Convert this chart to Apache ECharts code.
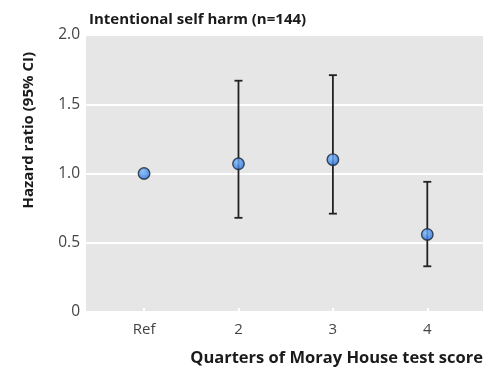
<!DOCTYPE html>
<html>
<head>
<meta charset="utf-8">
<script src="https://cdn.jsdelivr.net/npm/echarts@6/dist/echarts.min.js"></script>
<style>html,body{margin:0;padding:0;background:#fff}#c{width:485px;height:373px}</style>
</head>
<body>
<div id="c"></div>
<script>
const categories = ["Ref", "2", "3", "4"];
const hazard = [1.0, 1.07, 1.10, 0.56];
const lower = [null, 0.68, 0.71, 0.33];
const upper = [null, 1.67, 1.71, 0.94];
const yTicks = [0, 0.5, 1.0, 1.5, 2.0];

const FONT = "Open Sans";
const chart = echarts.init(document.getElementById('c'), null, {renderer: 'canvas'});

const pointData = hazard.map((v, i) => [i + 1, v]);
const errData = [];
categories.forEach((c, i) => { if (lower[i] != null) errData.push([i + 1, lower[i], upper[i]]); });

chart.setOption({
  animation: false,
  backgroundColor: '#ffffff',
  title: {
    text: 'Intentional self harm (n=144)',
    left: 84, top: 7,
    textStyle: {fontFamily: FONT, fontWeight: 'bold', fontSize: 15, color: '#1a1a1a'}
  },
  grid: {left: 86, right: 2, top: 35, bottom: 61, show: true, backgroundColor: '#e6e6e6', borderWidth: 0},
  xAxis: {
    type: 'value', min: 0.385, max: 4.59,
    axisLine: {show: false},
    splitLine: {show: false},
    axisTick: {show: true, customValues: [1, 2, 3, 4], inside: true, length: 4, lineStyle: {color: '#ffffff', width: 2}},
    axisLabel: {customValues: [1, 2, 3, 4], formatter: v => categories[Math.round(v) - 1],
      fontFamily: FONT, fontSize: 15, color: '#444', margin: 10}
  },
  yAxis: {
    type: 'value', min: 0, max: 2, interval: 0.5,
    axisLine: {show: false}, axisTick: {show: false},
    splitLine: {show: true, lineStyle: {color: '#ffffff', width: 2}},
    axisLabel: {customValues: yTicks, formatter: v => v === 0 ? '0' : v.toFixed(1), fontFamily: FONT, fontSize: 15.5, color: '#444', margin: 6}
  },
  graphic: [
    {type: 'text', left: 21, top: 52, rotation: Math.PI / 2,
      style: {text: 'Hazard ratio (95% CI)', fontFamily: FONT, fontWeight: 'bold', fontSize: 15, fill: '#1a1a1a'}},
    {type: 'text', right: 2, top: 350,
      style: {text: 'Quarters of Moray House test score', fontFamily: FONT, fontWeight: 'bold', fontSize: 16.5, fill: '#1a1a1a'}}
  ],
  series: [
    {
      type: 'custom',
      data: errData,
      z: 2,
      renderItem: function (params, api) {
        const x = api.value(0);
        const lo = api.coord([x, api.value(1)]);
        const hi = api.coord([x, api.value(2)]);
        const w = 4;
        const style = {stroke: '#222', lineWidth: 1.8};
        return {type: 'group', children: [
          {type: 'line', shape: {x1: lo[0], y1: lo[1], x2: hi[0], y2: hi[1]}, style},
          {type: 'line', shape: {x1: lo[0] - w, y1: lo[1], x2: lo[0] + w, y2: lo[1]}, style},
          {type: 'line', shape: {x1: hi[0] - w, y1: hi[1], x2: hi[0] + w, y2: hi[1]}, style}
        ]};
      }
    },
    {
      type: 'scatter',
      data: pointData,
      z: 3,
      symbol: 'circle',
      symbolSize: 11.5,
      itemStyle: {
        color: new echarts.graphic.RadialGradient(0.4, 0.35, 0.7, [
          {offset: 0, color: '#7ab8ff'},
          {offset: 1, color: '#1f66d6'}
        ]),
        borderColor: '#1b2533', borderWidth: 1.4
      }
    }
  ]
});
</script>
</body>
</html>
